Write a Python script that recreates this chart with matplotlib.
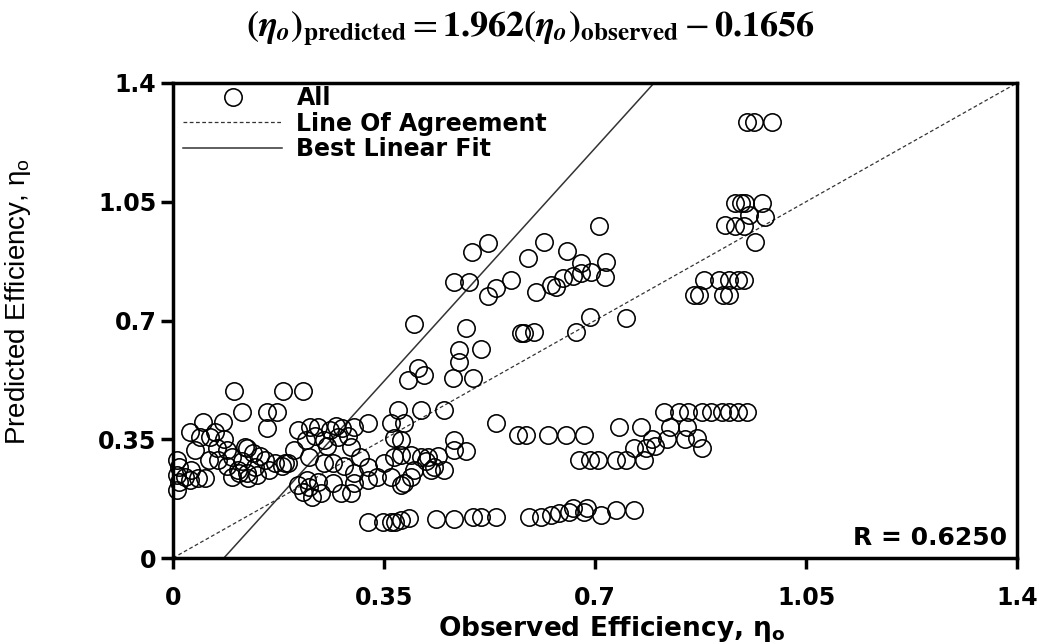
import matplotlib
matplotlib.use('Agg')
import matplotlib.pyplot as plt
from matplotlib.font_manager import FontProperties

# ---------------- data ----------------
observed = [
    0.101, 0.183, 0.216, 0.115, 0.156, 0.173, 0.156, 0.050, 0.083, 0.028,
    0.045, 0.062, 0.070, 0.037, 0.073, 0.090, 0.123, 0.133, 0.007, 0.010,
    0.007, 0.010, 0.007, 0.042, 0.053, 0.028, 0.075, 0.098, 0.107, 0.098,
    0.123, 0.136, 0.153, 0.170, 0.186, 0.120, 0.200, 0.208, 0.228, 0.220,
    0.225, 0.208, 0.225, 0.215, 0.231,
    0.240, 0.261, 0.280, 0.300, 0.323, 0.250, 0.273, 0.295, 0.311, 0.323,
    0.250, 0.266, 0.283, 0.191, 0.223, 0.240, 0.245, 0.266, 0.278, 0.300,
    0.295, 0.323, 0.300, 0.339, 0.361, 0.378, 0.366, 0.378, 0.394, 0.411,
    0.423, 0.366, 0.378, 0.361, 0.383, 0.373, 0.411, 0.449, 0.389, 0.416,
    0.406, 0.400, 0.433, 0.449, 0.400, 0.383, 0.466, 0.466, 0.428,
    0.323, 0.349, 0.361, 0.369, 0.378, 0.391, 0.436, 0.466,
    0.498, 0.511, 0.536, 0.591, 0.611, 0.627, 0.641, 0.657, 0.664, 0.682,
    0.686, 0.710, 0.735, 0.764,
    0.707, 0.522, 0.496, 0.616, 0.654, 0.589, 0.677, 0.719, 0.716, 0.694,
    0.677, 0.664, 0.647, 0.636, 0.627, 0.602, 0.466, 0.491, 0.561, 0.536,
    0.522, 0.486, 0.577, 0.599, 0.691, 0.752, 0.669, 0.474, 0.511, 0.474,
    0.464, 0.498, 0.582,
    0.536, 0.572, 0.586, 0.622, 0.652, 0.681, 0.486,
    0.674, 0.691, 0.705, 0.735, 0.752, 0.782, 0.765, 0.785, 0.799,
    0.794, 0.819, 0.849, 0.869, 0.877, 0.739, 0.777, 0.824, 0.852,
    0.814, 0.839, 0.855, 0.877, 0.893, 0.910, 0.922, 0.938, 0.952,
    0.880, 0.905, 0.923, 0.938, 0.947, 0.865, 0.872, 0.913, 0.922,
    0.952, 0.963, 0.993, 0.932, 0.943, 0.948, 0.977, 0.955, 0.982,
    0.915, 0.932, 0.947, 0.965,
    0.110, 0.125, 0.140, 0.160, 0.180, 0.060, 0.090, 0.020, 0.030, 0.115,
    0.235, 0.255, 0.270, 0.290, 0.350, 0.395, 0.420, 0.440, 0.145, 0.085,
]
predicted = [
    0.493, 0.493, 0.493, 0.431, 0.431, 0.431, 0.384, 0.400, 0.400, 0.372,
    0.357, 0.357, 0.372, 0.319, 0.324, 0.319, 0.324, 0.310, 0.289, 0.268,
    0.245, 0.224, 0.200, 0.236, 0.236, 0.230, 0.289, 0.298, 0.260, 0.239,
    0.250, 0.268, 0.289, 0.280, 0.280, 0.327, 0.319, 0.378, 0.386, 0.348,
    0.298, 0.215, 0.210, 0.195, 0.180,
    0.386, 0.378, 0.384, 0.386, 0.398, 0.348, 0.357, 0.327, 0.298, 0.268,
    0.280, 0.280, 0.270, 0.280, 0.230, 0.224, 0.192, 0.221, 0.192, 0.221,
    0.192, 0.230, 0.250, 0.239, 0.239, 0.215, 0.298, 0.304, 0.304, 0.298,
    0.298, 0.354, 0.348, 0.398, 0.398, 0.437, 0.437, 0.437, 0.525, 0.540,
    0.560, 0.690, 0.268, 0.260, 0.260, 0.221, 0.348, 0.319, 0.260,
    0.106, 0.106, 0.106, 0.106, 0.112, 0.118, 0.115, 0.115,
    0.120, 0.121, 0.121, 0.120, 0.120, 0.127, 0.133, 0.136, 0.147, 0.136,
    0.147, 0.127, 0.142, 0.142,
    0.979, 0.929, 0.903, 0.932, 0.906, 0.885, 0.870, 0.873, 0.829, 0.844,
    0.841, 0.832, 0.826, 0.800, 0.805, 0.785, 0.814, 0.814, 0.820, 0.796,
    0.773, 0.678, 0.664, 0.667, 0.711, 0.708, 0.667, 0.614, 0.617, 0.578,
    0.531, 0.531, 0.664,
    0.398, 0.363, 0.363, 0.363, 0.363, 0.363, 0.316,
    0.289, 0.289, 0.289, 0.289, 0.289, 0.289, 0.324, 0.324, 0.330,
    0.352, 0.351, 0.351, 0.354, 0.324, 0.386, 0.386, 0.386, 0.386,
    0.430, 0.430, 0.430, 0.430, 0.430, 0.430, 0.430, 0.430, 0.430,
    0.820, 0.820, 0.820, 0.820, 0.820, 0.776, 0.776, 0.776, 0.776,
    1.286, 1.286, 1.286, 1.047, 1.047, 1.047, 1.047, 1.012, 1.006,
    0.982, 0.979, 0.979, 0.932,
    0.250, 0.235, 0.245, 0.260, 0.270, 0.290, 0.270, 0.240, 0.260, 0.285,
    0.360, 0.330, 0.390, 0.360, 0.280, 0.240, 0.285, 0.300, 0.300, 0.350,
]
ticks = [0, 0.35, 0.7, 1.05, 1.4]
tick_labels = ['0', '0.35', '0.7', '1.05', '1.4']
fit_slope = 1.962
fit_intercept = -0.1656
r_value = 0.6250
series_labels = ['All', 'Line Of Agreement', 'Best Linear Fit']

# ---------------- figure ----------------
W, H = 1048, 644
fig = plt.figure(figsize=(W / 100, H / 100), dpi=100)
ax = fig.add_axes([173 / W, 86 / H, 844 / W, 475 / H])

lo, hi = ticks[0], ticks[-1]
ax.plot(observed, predicted, linestyle='none', marker='o', ms=12.5,
        mfc='none', mec='black', mew=1.15, label=series_labels[0],
        clip_on=False, zorder=3)
ax.plot([lo, hi], [lo, hi], color='#333333', lw=0.9,
        linestyle=(0, (3, 2)), label=series_labels[1], zorder=2)
fit_y = [lo, hi]
fit_x = [(v - fit_intercept) / fit_slope for v in fit_y]
ax.plot(fit_x, fit_y, color='#333333', lw=1.1, label=series_labels[2],
        zorder=2)

ax.set_xlim(lo, hi)
ax.set_ylim(lo, hi)
ax.set_xticks(ticks)
ax.set_yticks(ticks)
bold_fp = dict(family='DejaVu Sans', weight='bold', size=17)
ax.set_xticklabels(tick_labels, fontdict=bold_fp)
ax.set_yticklabels(tick_labels, fontdict=bold_fp)
ax.tick_params(axis='x', direction='out', length=8, width=2.5, pad=12)
ax.tick_params(axis='y', direction='out', length=9, width=2.5, pad=3)
for s in ax.spines.values():
    s.set_linewidth(2.5)
    s.set_color('black')

ax.set_xlabel('Observed Efficiency, η$_\\mathbf{o}$', family='DejaVu Sans',
              weight='bold', size=19, math_fontfamily='dejavusans')
ax.xaxis.set_label_coords(0.52, -0.118)
ax.set_ylabel('Predicted Efficiency, η$_\\mathregular{o}$',
              family=['Liberation Sans', 'DejaVu Sans'],
              size=20, math_fontfamily='dejavusans')
ax.yaxis.set_label_coords(-0.166, 0.54)

leg_fp = FontProperties(family='DejaVu Sans', weight='bold', size=17)
ax.legend(loc='upper left', bbox_to_anchor=(0.012, 0.993), frameon=False,
          prop=leg_fp, handlelength=4.2, handletextpad=0.6, borderpad=0,
          borderaxespad=0, labelspacing=0.06, numpoints=1)

ax.text(0.988, 0.042, 'R = %.4f' % r_value, transform=ax.transAxes,
        ha='right', va='center', family='DejaVu Sans', weight='bold', size=18)

title = (r'$\mathbf{(}\boldsymbol{\eta}_{\boldsymbol{o}}\mathbf{)}_{\mathbf{predicted}}'
         r' = \mathbf{%.3f(}\boldsymbol{\eta}_{\boldsymbol{o}}\mathbf{)}_{\mathbf{observed}}'
         r' - \mathbf{%.4f}$') % (fit_slope, -fit_intercept)
fig.text(0.506, 0.955, title, ha='center', va='center', size=26,
         math_fontfamily='stix')

fig.savefig('out.png', dpi=100)
